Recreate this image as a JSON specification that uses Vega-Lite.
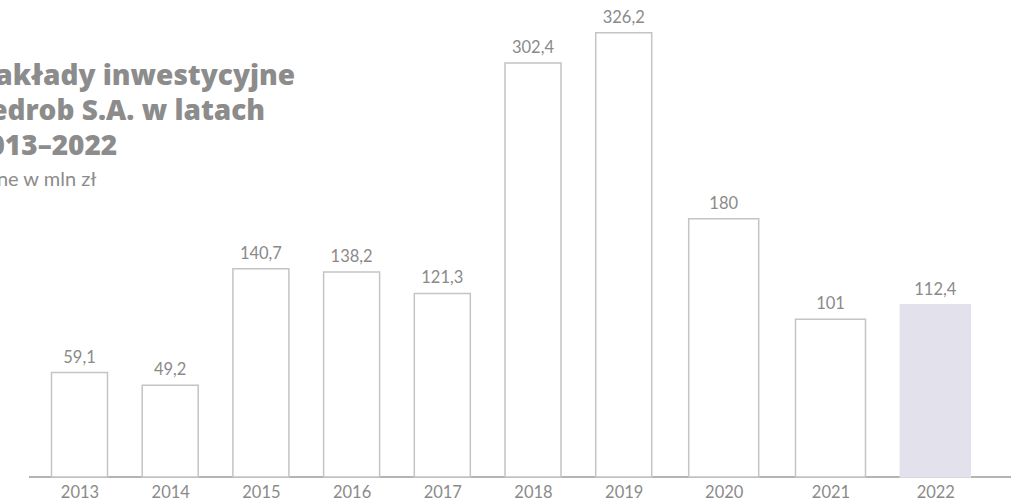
{
  "$schema": "https://vega.github.io/schema/vega-lite/v6.json",
  "autosize": "none",
  "width": 982,
  "height": 477,
  "padding": {"left": 29, "top": 0, "right": 0, "bottom": 22},
  "background": "#ffffff",
  "config": {
    "view": {"stroke": null},
    "font": "Lato",
    "locale": {
      "number": {"decimal": ",", "thousands": " ", "grouping": [3], "currency": ["", " zł"]}
    }
  },
  "title": {
    "text": ["Nakłady inwestycyjne", "Cedrob S.A. w latach", "2013–2022"],
    "subtitle": "Dane w mln zł",
    "anchor": "start",
    "frame": "group",
    "orient": "top",
    "dx": -57,
    "offset": -190,
    "font": "Open Sans",
    "fontSize": 28,
    "fontWeight": 800,
    "lineHeight": 35,
    "color": "#8c8c8c",
    "subtitleFont": "Lato",
    "subtitleFontSize": 20,
    "subtitleColor": "#8c8c8c",
    "subtitlePadding": 9
  },
  "data": {
    "values": [
      {"year": 2013, "value": 59.1},
      {"year": 2014, "value": 49.2},
      {"year": 2015, "value": 140.7},
      {"year": 2016, "value": 138.2},
      {"year": 2017, "value": 121.3},
      {"year": 2018, "value": 302.4},
      {"year": 2019, "value": 326.2},
      {"year": 2020, "value": 180},
      {"year": 2021, "value": 101},
      {"year": 2022, "value": 112.4}
    ]
  },
  "layer": [
    {
      "mark": {"type": "rule", "color": "#b4b4b4", "strokeWidth": 1.5},
      "encoding": {
        "y": {"datum": -23, "type": "quantitative", "scale": {"domain": [-23, 352], "nice": false, "zero": false}, "axis": null}
      }
    },
    {
      "mark": {"type": "bar", "strokeWidth": 1.5},
      "encoding": {
        "x": {
          "field": "year",
          "type": "quantitative",
          "scale": {"domain": [2013, 2019, 2020, 2021, 2022], "range": [50.5, 594.7, 694.7, 801.5, 906.3], "nice": false, "zero": false, "padding": 0},
          "axis": {
            "values": [2013, 2014, 2015, 2016, 2017, 2018, 2019, 2020, 2021, 2022],
            "format": "d",
            "domain": false,
            "ticks": false,
            "grid": false,
            "labelPadding": 7,
            "labelFontSize": 16.5,
            "labelColor": "#8a8a8a",
            "labelFont": "Lato",
            "labelFlush": false,
            "labelOverlap": false,
            "labelBaseline": "top",
            "title": null
          }
        },
        "y": {"field": "value", "type": "quantitative", "scale": {"domain": [-23, 352], "nice": false, "zero": false}, "axis": null},
        "y2": {"datum": -23},
        "size": {"condition": {"test": "datum.year >= 2020", "value": 70}, "value": 56},
        "fill": {"condition": {"test": "datum.year == 2022", "value": "#e3e2ec"}, "value": "#ffffff"},
        "stroke": {"condition": {"test": "datum.year == 2022", "value": "#e3e2ec"}, "value": "#c4c4c4"}
      }
    },
    {
      "mark": {"type": "text", "baseline": "alphabetic", "dy": -10, "fontSize": 16.5, "color": "#8a8a8a", "font": "Lato"},
      "encoding": {
        "x": {"field": "year", "type": "quantitative"},
        "y": {"field": "value", "type": "quantitative"},
        "text": {"field": "value", "type": "quantitative", "format": ".4~g"}
      }
    }
  ]
}
